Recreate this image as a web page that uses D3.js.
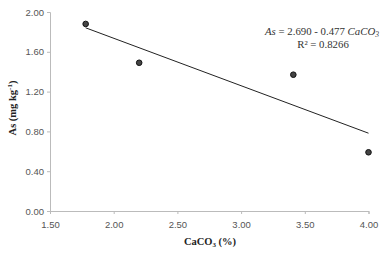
<!DOCTYPE html>
<html>
<head>
<meta charset="utf-8">
<script src="https://cdn.jsdelivr.net/npm/d3@7"></script>
<style>
  body { margin: 0; background: #fff; }
  .tick text { font-family: "Liberation Sans", Arial, sans-serif; font-size: 9.5px; fill: #555; }
  .lbl { font-family: "Liberation Serif", "Times New Roman", serif; font-weight: bold; font-size: 10.5px; fill: #222; }
</style>
</head>
<body>
<svg id="chart"></svg>
<script>
/* données */
const caco3 = [1.78, 2.20, 3.41, 4.00]
const arsenic = [1.88, 1.49, 1.37, 0.59]
const xTicks = [1.5, 2.0, 2.5, 3.0, 3.5, 4.0]
const yTicks = [0, 0.4, 0.8, 1.2, 1.6, 2.0]
const intercept = 2.690, slope = -0.477, r2 = '0.8266'

const width = 381, height = 253
const margin = {top: 12, right: 12, bottom: 42, left: 50}

const svg = d3.select('#chart').attr('width', width).attr('height', height)

const xScale = d3.scaleLinear().domain([1.5, 4.0]).range([margin.left, width - margin.right - 0.5])
const yScale = d3.scaleLinear().domain([0, 2.0]).range([height - margin.bottom, margin.top])

const xAxis = d3.axisBottom(xScale).tickValues(xTicks).tickFormat(d3.format('.2f')).tickSizeOuter(0).tickSize(3)
const yAxis = d3.axisLeft(yScale).tickValues(yTicks).tickFormat(d3.format('.2f')).tickSizeOuter(0).tickSize(3)

const gx = svg.append('g').attr('transform', 'translate(0,' + (height - margin.bottom) + ')').call(xAxis)
gx.selectAll('.tick text').attr('dy', '1.15em')
const gy = svg.append('g').attr('transform', 'translate(' + margin.left + ',0)').call(yAxis)
gy.selectAll('.tick text').attr('x', -6)
svg.selectAll('.domain, .tick line').attr('stroke', '#bbb')

/* droite de régression */
const xMin = d3.min(caco3), xMax = d3.max(caco3)
svg.append('line')
   .attr('x1', xScale(xMin)).attr('y1', yScale(intercept + slope * xMin))
   .attr('x2', xScale(xMax)).attr('y2', yScale(intercept + slope * xMax))
   .attr('stroke', '#222').attr('stroke-width', 1)

/* points */
svg.selectAll('circle').data(caco3).enter().append('circle')
   .attr('cx', d => xScale(d))
   .attr('cy', (d, i) => yScale(arsenic[i]))
   .attr('r', 2.8)
   .attr('fill', '#444').attr('stroke', '#111').attr('stroke-width', 1)

/* équation */
const eq = svg.append('text').attr('x', 265).attr('y', 35)
   .style('font-family', '"Liberation Serif", serif').style('font-size', '10.8px').attr('fill', '#333')
eq.append('tspan').style('font-style', 'italic').text('As')
eq.append('tspan').text(' = ' + intercept.toFixed(3) + ' - ' + Math.abs(slope).toFixed(3) + ' ')
eq.append('tspan').style('font-style', 'italic').text('CaCO')
eq.append('tspan').style('font-style', 'italic').attr('font-size', '7.5px').attr('dy', 2).text('3')
svg.append('text').attr('x', 323).attr('y', 48).attr('text-anchor', 'middle')
   .style('font-family', '"Liberation Serif", serif').style('font-size', '10.8px').attr('fill', '#333')
   .text('R² = ' + r2)

/* titres des axes */
const xl = svg.append('text').attr('class', 'lbl').attr('x', 210).attr('y', 245).attr('text-anchor', 'middle')
xl.append('tspan').text('CaCO')
xl.append('tspan').attr('font-size', '7px').attr('dy', 2).text('3')
xl.append('tspan').attr('dy', -2).text(' (%)')

const yl = svg.append('text').attr('class', 'lbl').attr('transform', 'translate(16,' + 108 + ') rotate(-90)').attr('text-anchor', 'middle')
yl.append('tspan').text('As (mg kg')
yl.append('tspan').attr('font-size', '7px').attr('dy', -4).text('-1')
yl.append('tspan').attr('dy', 4).text(')')
</script>
</body>
</html>
